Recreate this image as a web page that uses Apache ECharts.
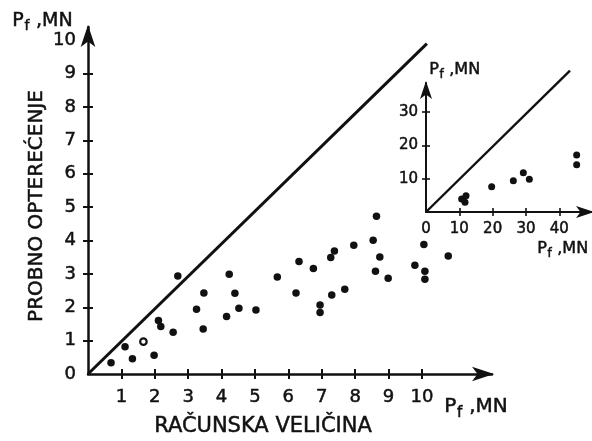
<!DOCTYPE html>
<html>
<head>
<meta charset="utf-8">
<script src="https://cdn.jsdelivr.net/npm/echarts@6/dist/echarts.min.js"></script>
<style>
  html, body { margin: 0; padding: 0; background: #fff; }
  #chart { width: 592px; height: 441px; }
</style>
</head>
<body>
<div id="chart"></div>
<script>
// Measured vs. computed pile capacity (MN)
const mainX = [0.69, 1.11, 1.33, 1.98, 2.11, 2.18, 2.55, 2.69, 3.25, 3.47, 3.45, 4.15, 4.23, 4.40, 4.52, 5.03,
               5.67, 6.23, 6.32, 6.75, 6.95, 6.95, 7.30, 7.27, 7.38, 7.69, 7.96, 8.54, 8.64, 8.74, 8.61, 8.99,
               9.79, 10.06, 10.09, 10.09, 10.79];
const mainY = [0.34, 0.82, 0.46, 0.56, 1.60, 1.42, 1.25, 2.94, 1.94, 2.43, 1.35, 1.72, 2.99, 2.42, 1.97, 1.92,
               2.91, 2.43, 3.37, 3.16, 2.07, 1.84, 2.37, 3.49, 3.69, 2.54, 3.86, 4.01, 4.73, 3.51, 3.08, 2.87,
               3.26, 3.88, 3.08, 2.84, 3.54];
// one test marked with an open circle
const openX = [1.66];
const openY = [0.97];
// large-capacity piles (inset)
const insetX = [10.7, 12.0, 11.7, 19.7, 26.2, 29.2, 31.0, 45.2, 45.2];
const insetY = [3.9, 4.9, 2.9, 7.6, 9.4, 11.8, 9.8, 17.1, 14.2];
// equality lines (computed = measured)
const mainLine = [[0, 0], [10.15, 9.9]];
const insetLine = [[0, 0], [43.2, 42.4]];

// tick marks and labels
const mainXTicks = [1, 2, 3, 4, 5, 6, 7, 8, 9, 10];
const mainXLabels = [1, 2, 3, 4, 5, 6, 7, 8, 9, 10];
const mainYTicks = [1, 2, 3, 4, 5, 6, 7, 8, 9];
const mainYLabels = [0, 1, 2, 3, 4, 5, 6, 7, 8, 9, 10];
const insetXTicks = [10, 20, 30, 40];
const insetXLabels = [0, 10, 20, 30, 40];
const insetYTicks = [10, 20, 30];
const insetYLabels = [10, 20, 30];

const zip = (xs, ys) => xs.map((x, i) => [x, ys[i]]);
const FONT = 'DejaVu Sans';
const INK = '#111';
const INK_STROKE = 0.5; // slight stroke to give the lettering a pen-drawn weight

// Each axis is a pair: one carries the line, labels and inner half of each tick,
// the other (no line) carries the outer half so ticks cross the axis.
function axisPair(kind, gridIndex, min, max, ticks, labels, opts) {
  const base = { type: 'value', gridIndex, min, max, splitLine: { show: false } };
  const pos = kind === 'x' ? 'bottom' : 'left';
  const a = Object.assign({}, base, {
    position: pos,
    axisLine: { show: true, symbol: ['none', 'arrow'], symbolSize: opts.arrow, symbolOffset: [0, 2],
                lineStyle: { color: INK, width: opts.lw } },
    axisTick: { show: true, inside: true, length: opts.tick, customValues: ticks, lineStyle: { color: INK, width: opts.tw } },
    axisLabel: { show: true, customValues: labels, margin: opts.margin, color: INK, fontFamily: FONT, fontSize: opts.fs,
                 textBorderColor: INK, textBorderWidth: INK_STROKE }
  });
  const b = Object.assign({}, base, {
    position: pos,
    axisLine: { show: false },
    axisTick: { show: true, inside: false, length: opts.tick, customValues: ticks, lineStyle: { color: INK, width: opts.tw } },
    axisLabel: { show: false }
  });
  return [a, b];
}

const mx = axisPair('x', 0, 0, 12.1, mainXTicks, mainXLabels, { arrow: [11, 22], lw: 2.5, tick: 5, tw: 2, margin: 14, fs: 18 });
const my = axisPair('y', 0, 0, 10.4, mainYTicks, mainYLabels, { arrow: [11, 22], lw: 2.5, tick: 5, tw: 2, margin: 12, fs: 18 });
const ix = axisPair('x', 1, 0, 49.8, insetXTicks, insetXLabels, { arrow: [9, 18], lw: 2, tick: 4, tw: 1.6, margin: 10, fs: 15 });
const iy = axisPair('y', 1, 0, 38.7, insetYTicks, insetYLabels, { arrow: [9, 18], lw: 2, tick: 4, tw: 1.6, margin: 8, fs: 15 });

function txtStyle(text, size) {
  return { text, fill: INK, stroke: INK, lineWidth: INK_STROKE, font: size + 'px "' + FONT + '"' };
}

function unitLabel(x, y, size) {
  return {
    type: 'group', left: x, top: y,
    children: [
      { type: 'text', x: 0, y: 0, style: txtStyle('P', size) },
      { type: 'text', x: size * 0.64, y: size * 0.42, style: txtStyle('f', Math.round(size * 0.75)) },
      { type: 'text', x: size * 1.25, y: 0, style: txtStyle(',MN', size) }
    ]
  };
}

const chart = echarts.init(document.getElementById('chart'), null, { renderer: 'canvas' });
chart.setOption({
  backgroundColor: '#fff',
  animation: false,
  grid: [
    { left: 88, top: 27, width: 404, height: 347 },
    { left: 426, top: 83, width: 166, height: 129 }
  ],
  xAxis: [mx[0], mx[1], ix[0], ix[1]],
  yAxis: [my[0], my[1], iy[0], iy[1]],
  series: [
    { type: 'line', xAxisIndex: 0, yAxisIndex: 0, data: mainLine, symbol: 'none', clip: false,
      lineStyle: { color: INK, width: 3 } },
    { type: 'scatter', xAxisIndex: 0, yAxisIndex: 0, data: zip(mainX, mainY), symbolSize: 7.5,
      itemStyle: { color: INK, opacity: 1 } },
    { type: 'scatter', xAxisIndex: 0, yAxisIndex: 0, data: zip(openX, openY), symbolSize: 6.5,
      itemStyle: { color: '#fff', borderColor: INK, borderWidth: 2.2, opacity: 1 } },
    { type: 'line', xAxisIndex: 2, yAxisIndex: 2, data: insetLine, symbol: 'none', clip: false,
      lineStyle: { color: INK, width: 2.4 } },
    { type: 'scatter', xAxisIndex: 2, yAxisIndex: 2, data: zip(insetX, insetY), symbolSize: 7,
      itemStyle: { color: INK, opacity: 1 } }
  ],
  graphic: [
    unitLabel(12, 11, 19),
    unitLabel(444, 397, 20),
    unitLabel(429, 62, 16),
    unitLabel(537, 241, 16),
    { type: 'text', x: 263, y: 427,
      style: Object.assign(txtStyle('RAČUNSKA VELIČINA', 21), { align: 'center', verticalAlign: 'middle' }) },
    { type: 'text', x: 37, y: 206, rotation: Math.PI / 2,
      style: Object.assign(txtStyle('PROBNO OPTEREĆENJE', 20), { align: 'center', verticalAlign: 'middle' }) }
  ]
});
</script>
</body>
</html>
